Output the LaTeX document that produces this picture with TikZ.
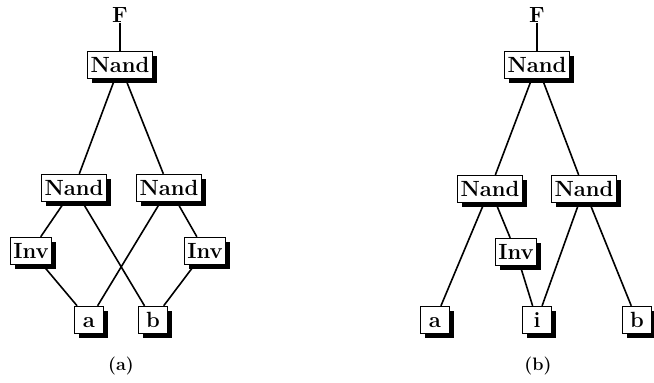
\documentclass[tikz,border=0pt]{standalone}
\usepackage{fontspec}
\usetikzlibrary{shadows}
\begin{document}
\begin{tikzpicture}[x=1pt,y=-1pt,
  gate/.style={draw, line width=1.4pt, fill=white, inner xsep=3pt, inner ysep=0pt,
    minimum width=29pt, minimum height=27pt, text height=15pt, text depth=0pt,
    font=\fontsize{22}{26}\selectfont\bfseries,
    drop shadow={shadow xshift=4.5pt, shadow yshift=-4.5pt, fill=black, opacity=1}},
  outlbl/.style={font=\fontsize{22}{26}\selectfont\bfseries, inner sep=0pt},
  caption/.style={font=\fontsize{18}{22}\selectfont\bfseries, inner sep=0pt},
  wire/.style={line width=1.6pt}]
\useasboundingbox (0,0) rectangle (654,383);

% ---- (a) ----
\node[outlbl] (Fa) at (120,15) {F};
\node[gate] (ta) at (120,65) {Nand};
\node[gate] (la) at (74,188) {Nand};
\node[gate] (ra) at (169,188) {Nand};
\node[gate] (ila) at (31,251) {Inv};
\node[gate] (ira) at (205,251) {Inv};
\node[gate] (aa) at (89,320) {a};
\node[gate] (ba) at (153,320) {b};
\node[caption] (capa) at (121,366) {(a)};

\draw[wire] (Fa) -- (ta);
\draw[wire] (ta) -- (la);
\draw[wire] (ta) -- (ra);
\draw[wire] (la) -- (ila);
\draw[wire] (la) -- (ba);
\draw[wire] (ra) -- (aa);
\draw[wire] (ra) -- (ira);
\draw[wire] (ila) -- (aa);
\draw[wire] (ira) -- (ba);

% ---- (b) ----
\node[outlbl] (Fb) at (537,15) {F};
\node[gate] (tb) at (537,65) {Nand};
\node[gate] (lb) at (490,189) {Nand};
\node[gate] (rb) at (584,189) {Nand};
\node[gate] (ib) at (516,252) {Inv};
\node[gate] (ab) at (435,320) {a};
\node[gate] (xb) at (537,320) {i};
\node[gate] (bb) at (637,320) {b};
\node[caption] (capb) at (538,366) {(b)};

\draw[wire] (Fb) -- (tb);
\draw[wire] (tb) -- (lb);
\draw[wire] (tb) -- (rb);
\draw[wire] (lb) -- (ab);
\draw[wire] (lb) -- (ib);
\draw[wire] (ib) -- (xb);
\draw[wire] (rb) -- (xb);
\draw[wire] (rb) -- (bb);
\end{tikzpicture}
\end{document}
